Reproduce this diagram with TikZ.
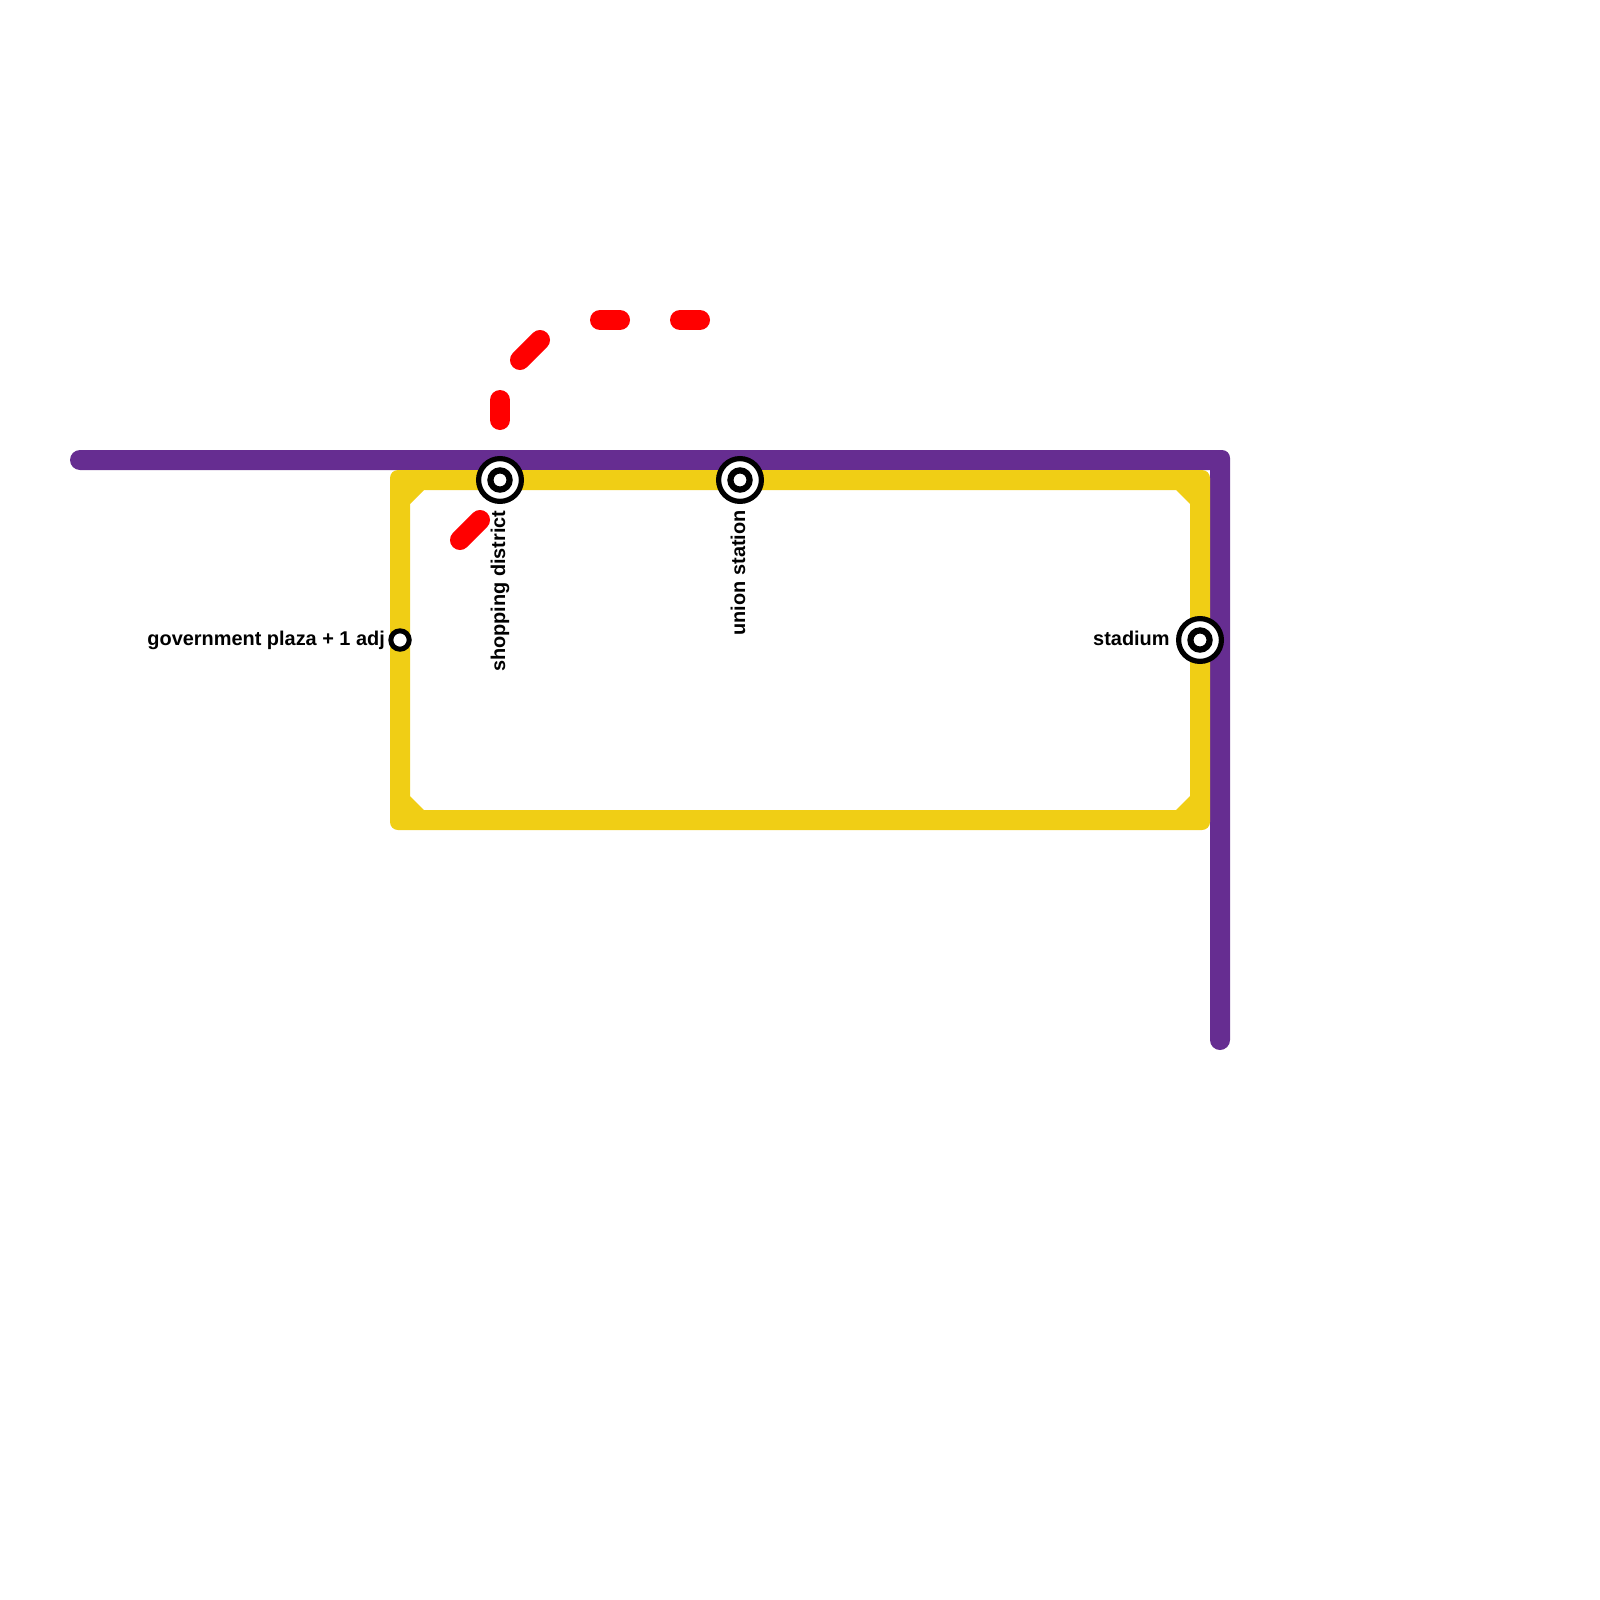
\documentclass[tikz,border=0pt]{standalone}
\usepackage{fontspec}
\setmainfont{Liberation Sans}
\usetikzlibrary{positioning}

\begin{document}
\begin{tikzpicture}[
        x=0.5pt,
        y=-0.5pt,
        node distance=3pt,
        redline/.style={
            draw=linered,
            line width=10pt,
            line cap=round
        },
        station/.style={
            circle,
            draw=black,
            fill=white,
            line width=2.6pt,
            inner sep=0pt,
            minimum size=21.4pt
        },
        stationcore/.style={
            circle,
            draw=black,
            fill=white,
            line width=3.1pt,
            inner sep=0pt,
            minimum size=9.6pt
        },
        smallstation/.style={
            circle,
            draw=black,
            fill=white,
            line width=2.5pt,
            inner sep=0pt,
            minimum size=9.2pt
        },
        stationlabel/.style={
            inner sep=0pt,
            text=black,
            text height=7.3pt,
            text depth=2.1pt,
            font=\fontsize{9.96}{12}\selectfont\bfseries
        }
    ]
        \definecolor{linepurple}{HTML}{662D91}
        \definecolor{lineyellow}{HTML}{F0CE15}
        \definecolor{linered}{HTML}{FF0000}

        \useasboundingbox (0,0) rectangle (1600,1600);

        \fill[linepurple] (80,450) -- (1222,450) arc[start angle=90, end angle=0, radius=4pt] -- (1230,1040) arc[start angle=0, end angle=-180, radius=5pt] -- (1210,470) -- (80,470) arc[start angle=-90, end angle=-270, radius=5pt] -- cycle;
        \fill[lineyellow, even odd rule] (398,470) -- (1202,470) arc[start angle=90, end angle=0, radius=4pt] -- (1210,822) arc[start angle=0, end angle=-90, radius=4pt] -- (398,830) arc[start angle=-90, end angle=-180, radius=4pt] -- (390,478) arc[start angle=180, end angle=90, radius=4pt] -- cycle (424,490) -- (1176,490) -- (1190,504) -- (1190,796) -- (1176,810) -- (424,810) -- (410,796) -- (410,504) -- cycle;

        \draw[redline] (460,540) -- (480,520);
        \draw[redline] (500,420) -- (500,400);
        \draw[redline] (520,360) -- (540,340);
        \draw[redline] (600,320) -- (620,320);
        \draw[redline] (680,320) -- (700,320);

        \node[station] (shopping) at (500,480) {};
        \node[stationcore] at (shopping.center) {};
        \node[station] (union) at (740,480) {};
        \node[stationcore] at (union.center) {};
        \node[station] (stadium) at (1200,640) {};
        \node[stationcore] at (stadium.center) {};
        \node[smallstation] (plaza) at (400,640) {};

        \node[stationlabel, rotate=90, anchor=east] (shoppinglabel) at ([yshift=-3pt]shopping.south) {shopping district};
        \node[stationlabel, rotate=90, anchor=east] (unionlabel) at ([yshift=-3pt]union.south) {union station};
        \node[stationlabel, left=of stadium] (stadiumlabel) {stadium};
        \node[stationlabel, left=1.5pt of plaza] (plazalabel) {government plaza + 1 adj};
    \end{tikzpicture}
\end{document}
